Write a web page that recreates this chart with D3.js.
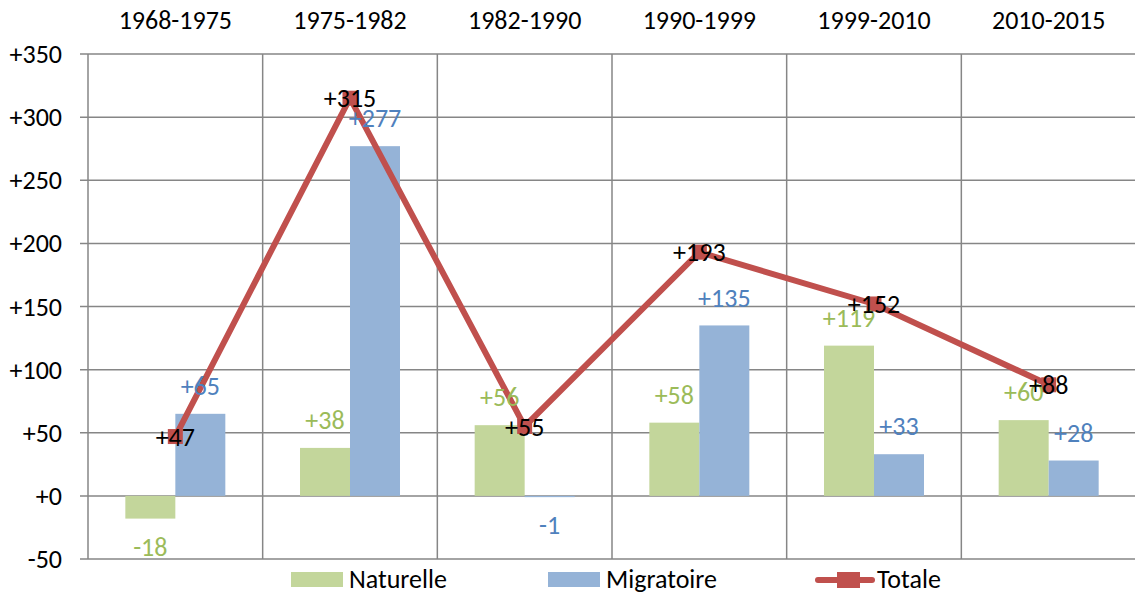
<!DOCTYPE html>
<html>

<head>
    <style type="text/css">
    html,
    body {
        margin: 0px;
        padding: 0px;
        background: #fff;
        font-family: Carlito, Calibri, Lato, sans-serif;
    }

    .grid line {
        stroke: #868686;
        stroke-width: 1.5px;
    }

    .lbl {
        font-size: 26px;
    }

    .leg {
        font-size: 26px;
    }
    </style>
    <script src="https://cdn.jsdelivr.net/npm/d3@7"></script>
    <title>Variation</title>
</head>

<body>
</body>
<script type="text/javascript">
// data
var periods = ["1968-1975", "1975-1982", "1982-1990", "1990-1999", "1999-2010", "2010-2015"];
var naturelle = [-18, 38, 56, 58, 119, 60];
var migratoire = [65, 277, -1, 135, 33, 28];
var totale = [47, 315, 55, 193, 152, 88];
var yTicks = [-50, 0, 50, 100, 150, 200, 250, 300, 350];

var width = 1135,
    height = 596;

// plot area
var plotLeft = 88,
    plotRight = 1136,
    plotTop = 54,
    plotBottom = 559;

var green = "#c3d69b",
    blue = "#95b3d7",
    red = "#c0504d",
    greenText = "#9bbb59",
    blueText = "#4f81bd";

var svg = d3.select("body")
    .append("svg")
    .attr("width", width)
    .attr("height", height);

var x = d3.scaleBand()
    .domain(periods)
    .range([plotLeft, plotRight]);

var inner = d3.scaleBand()
    .domain(["Naturelle", "Migratoire"])
    .range([0, x.bandwidth()])
    .paddingInner(0)
    .paddingOuter(0.7467);

var y = d3.scaleLinear()
    .domain([-50, 350])
    .range([plotBottom, plotTop]);

function fmt(v) {
    return (v >= 0 ? "+" : "") + v;
}

// horizontal grid lines with ticks
var grid = svg.append("g").attr("class", "grid");
grid.selectAll(".h")
    .data(yTicks)
    .enter().append("line")
    .attr("x1", plotLeft - 8)
    .attr("x2", plotRight)
    .attr("y1", d => y(d))
    .attr("y2", d => y(d));

// vertical lines at category borders
var borders = periods.map(p => x(p)).concat([plotRight]);
grid.selectAll(".v")
    .data(borders)
    .enter().append("line")
    .attr("x1", d => d)
    .attr("x2", d => d)
    .attr("y1", plotTop)
    .attr("y2", plotBottom);

// y labels
svg.append("g").selectAll("text")
    .data(yTicks)
    .enter().append("text")
    .attr("class", "lbl")
    .attr("x", 62)
    .attr("y", d => y(d))
    .attr("dy", "0.35em")
    .attr("text-anchor", "end")
    .text(fmt);

// category labels on top
svg.append("g").selectAll("text")
    .data(periods)
    .enter().append("text")
    .attr("class", "lbl")
    .attr("x", d => x(d) + x.bandwidth() / 2)
    .attr("y", 20)
    .attr("dy", "0.35em")
    .attr("text-anchor", "middle")
    .text(d => d);

// bars
var series = [
    { name: "Naturelle", values: naturelle, fill: green, text: greenText },
    { name: "Migratoire", values: migratoire, fill: blue, text: blueText }
];

series.forEach(function(s) {
    var g = svg.append("g");
    g.selectAll("rect")
        .data(s.values)
        .enter().append("rect")
        .attr("x", (d, i) => x(periods[i]) + inner(s.name))
        .attr("width", inner.bandwidth())
        .attr("y", d => Math.min(y(d), y(0)))
        .attr("height", d => Math.max(Math.abs(y(d) - y(0)), 1))
        .attr("fill", s.fill);
});

// total line
var line = d3.line()
    .x((d, i) => x(periods[i]) + x.bandwidth() / 2)
    .y(d => y(d));

svg.append("path")
    .datum(totale)
    .attr("fill", "none")
    .attr("stroke", red)
    .attr("stroke-width", 6)
    .attr("d", line);

svg.append("g").selectAll("rect")
    .data(totale)
    .enter().append("rect")
    .attr("x", (d, i) => x(periods[i]) + x.bandwidth() / 2 - 7.5)
    .attr("y", d => y(d) - 7.5)
    .attr("width", 15)
    .attr("height", 15)
    .attr("fill", red);

// value labels for bars
series.forEach(function(s) {
    svg.append("g").selectAll("text")
        .data(s.values)
        .enter().append("text")
        .attr("class", "lbl")
        .attr("x", (d, i) => x(periods[i]) + inner(s.name) + inner.bandwidth() / 2)
        .attr("y", d => y(d) + (d >= 0 ? -28 : 28))
        .attr("dy", "0.35em")
        .attr("text-anchor", "middle")
        .attr("fill", s.text)
        .text(fmt);
});

// total labels
svg.append("g").selectAll("text")
    .data(totale)
    .enter().append("text")
    .attr("class", "lbl")
    .attr("x", (d, i) => x(periods[i]) + x.bandwidth() / 2)
    .attr("y", d => y(d))
    .attr("dy", "0.35em")
    .attr("text-anchor", "middle")
    .attr("fill", "#000")
    .text(fmt);

// legend
var legend = svg.append("g");
legend.append("rect").attr("x", 291).attr("y", 572).attr("width", 52).attr("height", 15).attr("fill", green);
legend.append("text").attr("class", "leg").attr("x", 349).attr("y", 579).attr("dy", "0.35em").text("Naturelle");
legend.append("rect").attr("x", 548).attr("y", 572).attr("width", 52).attr("height", 15).attr("fill", blue);
legend.append("text").attr("class", "leg").attr("x", 606).attr("y", 579).attr("dy", "0.35em").text("Migratoire");
legend.append("line").attr("x1", 818).attr("x2", 872).attr("y1", 580).attr("y2", 580)
    .attr("stroke", red).attr("stroke-width", 6).attr("stroke-linecap", "round");
legend.append("rect").attr("x", 837).attr("y", 572).attr("width", 23).attr("height", 16).attr("fill", red);
legend.append("text").attr("class", "leg").attr("x", 877).attr("y", 579).attr("dy", "0.35em").text("Totale");
</script>

</html>
